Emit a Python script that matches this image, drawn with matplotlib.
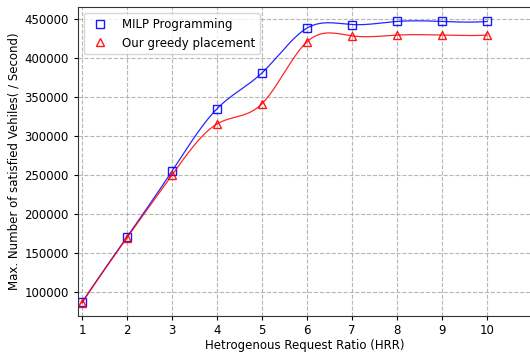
import numpy as np
import matplotlib
matplotlib.use('Agg')
import matplotlib.pyplot as plt

# HRR values and results
hrr = [1, 2, 3, 4, 5, 6, 7, 8, 9, 10]
milp = [86500, 170500, 255000, 335000, 381000, 438500, 443000, 447000, 447000, 447000]
greedy = [86000, 169500, 250000, 315500, 341500, 421000, 428500, 429500, 429500, 429500]


def smooth(x, y, num=300):
    # not-a-knot cubic spline through the points
    x = np.asarray(x, float)
    y = np.asarray(y, float)
    n = len(x)
    h = np.diff(x)
    d = np.diff(y) / h
    A = np.zeros((n, n))
    b = np.zeros(n)
    A[0, 0], A[0, 1], A[0, 2] = h[1], -(h[0] + h[1]), h[0]
    A[-1, -3], A[-1, -2], A[-1, -1] = h[-1], -(h[-2] + h[-1]), h[-2]
    for i in range(1, n - 1):
        A[i, i - 1] = h[i - 1]
        A[i, i] = 2 * (h[i - 1] + h[i])
        A[i, i + 1] = h[i]
        b[i] = 6 * (d[i] - d[i - 1])
    M = np.linalg.solve(A, b)
    xs = np.linspace(x[0], x[-1], num)
    idx = np.clip(np.searchsorted(x, xs) - 1, 0, n - 2)
    x0, x1 = x[idx], x[idx + 1]
    hh = x1 - x0
    ys = (M[idx] * (x1 - xs) ** 3 / (6 * hh) + M[idx + 1] * (xs - x0) ** 3 / (6 * hh)
          + (y[idx] / hh - M[idx] * hh / 6) * (x1 - xs)
          + (y[idx + 1] / hh - M[idx + 1] * hh / 6) * (xs - x0))
    return xs, ys


fig = plt.figure(figsize=(5.3, 3.52), dpi=100)
ax = fig.add_axes([0.147, 0.102, 0.857, 0.878])

xs, ys = smooth(hrr, milp)
ax.plot(xs, ys, color='b', lw=0.9, alpha=0.85)
ax.plot(hrr, milp, 's', mfc='none', mec='b', ms=6, alpha=0.9, label='MILP Programming')

xs, ys = smooth(hrr, greedy)
ax.plot(xs, ys, color='r', lw=0.9, alpha=0.85)
ax.plot(hrr, greedy, '^', mfc='none', mec='r', ms=6, alpha=0.9, label='Our greedy placement')

ax.set_xlim(0.91, 11)
ax.set_ylim(69000, 465500)
ax.set_xticks(hrr)
ax.set_yticks(np.arange(100000, 450001, 50000))
ax.grid(True, linestyle='--', color='#b0b0b0', alpha=0.9)
ax.set_xlabel('Hetrogenous Request Ratio (HRR)', fontsize=8.5, labelpad=1.5)
ax.set_ylabel('Max. Number of satisfied Vehiles( / Second)', fontsize=8.5, labelpad=3)
ax.tick_params(labelsize=8.5, length=3)
ax.tick_params(axis='x', pad=2.5)
for s in ax.spines.values():
    s.set_color('#333333')
ax.legend(loc='upper left', fontsize=8.5)

fig.savefig('out.png', dpi=100)
